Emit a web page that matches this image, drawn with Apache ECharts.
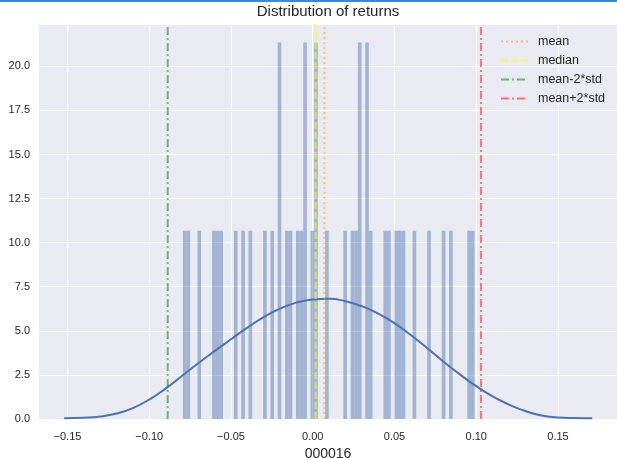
<!DOCTYPE html>
<html>
<head>
<meta charset="utf-8">
<script src="https://cdn.jsdelivr.net/npm/echarts@6/dist/echarts.min.js"></script>
<style>
html, body { margin: 0; padding: 0; background: #fff; }
#main { width: 617px; height: 458px; }
</style>
</head>
<body>
<div id="main"></div>
<script>
// histogram: 80 bins between the min and max return, 42 samples
var binStart = -0.0794;
var binEnd = 0.0990;
var sampleSize = 42;
var binCounts = [
    1, 1, 0, 0, 1, 0, 0, 0, 1, 1,
    1, 0, 0, 0, 1, 0, 1, 0, 1, 0,
    0, 0, 1, 0, 1, 0, 2, 0, 1, 1,
    0, 1, 1, 2, 0, 1, 2, 0, 0, 1,
    0, 0, 0, 0, 1, 0, 1, 1, 2, 0,
    2, 1, 0, 0, 0, 1, 1, 0, 1, 1,
    1, 0, 0, 1, 0, 0, 0, 1, 0, 0,
    0, 1, 0, 1, 0, 0, 0, 0, 1, 1
];

// kde curve
var kdeX = [-0.152, -0.14, -0.13, -0.12, -0.11, -0.10, -0.09, -0.08, -0.07, -0.06, -0.05, -0.04,
            -0.03, -0.02, -0.01, 0.00, 0.01, 0.02, 0.03, 0.04, 0.05, 0.06, 0.07, 0.08,
            0.09, 0.10, 0.11, 0.12, 0.13, 0.14, 0.15, 0.16, 0.171];
var kdeY = [0.04, 0.07, 0.14, 0.31, 0.62, 1.10, 1.72, 2.44, 3.16, 3.85, 4.52, 5.18,
            5.78, 6.26, 6.60, 6.78, 6.82, 6.68, 6.40, 5.98, 5.44, 4.76, 4.02, 3.25,
            2.53, 1.86, 1.28, 0.82, 0.45, 0.20, 0.08, 0.05, 0.04];

var meanValue = 0.0071;
var medianValue = 0.0018;
var stdValue = 0.0479;

var xTicks = [-0.15, -0.10, -0.05, 0.00, 0.05, 0.10, 0.15];
var xName = '000016';
var titleText = 'Distribution of returns';

var chart = echarts.init(document.getElementById('main'));

var binWidth = (binEnd - binStart) / binCounts.length;
var histData = [];
binCounts.forEach(function (c, i) {
    if (c > 0) {
        histData.push([binStart + i * binWidth, binStart + (i + 1) * binWidth, c / (sampleSize * binWidth)]);
    }
});
var kdeData = kdeX.map(function (x, i) { return [x, kdeY[i]]; });
var yMax = 22.4;

function vline(name, value, color, dash) {
    return {
        name: name,
        type: 'line',
        data: [[value, 0], [value, yMax]],
        symbol: 'none',
        silent: true,
        z: 5,
        lineStyle: { color: color, width: 2, type: dash },
        itemStyle: { color: color }
    };
}

var fontFamily = '"Liberation Sans", Arial, sans-serif';

var option = {
    animation: false,
    graphic: [{
        type: 'rect', left: 0, top: 0,
        shape: { width: 617, height: 2 },
        style: { fill: '#3a8bd0' }
    }],
    title: {
        text: titleText,
        left: 328, top: 4, textAlign: 'center', padding: 0,
        textStyle: { fontFamily: fontFamily, fontSize: 15, fontWeight: 'normal', color: '#262626' }
    },
    legend: {
        data: ['mean', 'median', 'mean-2*std', 'mean+2*std'],
        orient: 'vertical',
        left: 500, top: 35, padding: 0,
        itemWidth: 27, itemHeight: 10, itemGap: 6,
        itemStyle: { opacity: 0, borderWidth: 0 },
        textStyle: { fontFamily: fontFamily, fontSize: 12.5, color: '#262626', padding: [0, 0, 0, 5] }
    },
    grid: {
        left: 39, right: 0, top: 24, bottom: 39,
        outerBoundsMode: 'none', containLabel: false,
        show: true, backgroundColor: '#EAEAF2', borderWidth: 0
    },
    xAxis: {
        type: 'value',
        min: -0.1674, max: 0.1861,
        name: xName, nameLocation: 'middle', nameGap: 26,
        nameTextStyle: { fontFamily: fontFamily, fontSize: 14, color: '#262626' },
        axisLine: { show: false },
        axisTick: { show: false, customValues: xTicks },
        axisLabel: {
            customValues: xTicks,
            margin: 12,
            fontFamily: fontFamily, fontSize: 11, color: '#262626',
            formatter: function (v) { return (v < 0 ? '\u2212' : '') + Math.abs(v).toFixed(2); }
        },
        splitLine: { show: true, lineStyle: { color: '#ffffff', width: 1 } }
    },
    yAxis: {
        type: 'value',
        min: 0, max: yMax, interval: 2.5,
        axisLine: { show: false },
        axisTick: { show: false },
        axisLabel: {
            margin: 9, showMaxLabel: false,
            fontFamily: fontFamily, fontSize: 11, color: '#262626',
            formatter: function (v) { return v.toFixed(1); }
        },
        splitLine: { show: true, lineStyle: { color: '#ffffff', width: 1 } }
    },
    series: [
        {
            name: 'hist',
            type: 'custom',
            data: histData,
            encode: { x: [0, 1], y: 2 },
            silent: true,
            z: 2,
            renderItem: function (params, api) {
                var p0 = api.coord([api.value(0), api.value(2)]);
                var p1 = api.coord([api.value(1), 0]);
                return {
                    type: 'rect',
                    shape: { x: p0[0], y: p0[1], width: p1[0] - p0[0], height: p1[1] - p0[1] },
                    style: { fill: 'rgba(76,114,176,0.45)' }
                };
            }
        },
        {
            name: 'kde',
            type: 'line',
            data: kdeData,
            smooth: true,
            symbol: 'none',
            silent: true,
            z: 3,
            lineStyle: { color: '#4C72B0', width: 2 }
        },
        vline('mean', meanValue, 'rgba(255,165,0,0.55)', [2, 3]),
        vline('median', medianValue, 'rgba(255,255,0,0.6)', [7, 3]),
        vline('mean-2*std', meanValue - 2 * stdValue, 'rgba(0,140,0,0.55)', [8, 3, 2, 3]),
        vline('mean+2*std', meanValue + 2 * stdValue, 'rgba(255,0,0,0.5)', [8, 3, 2, 3])
    ]
};

chart.setOption(option);
</script>
</body>
</html>
